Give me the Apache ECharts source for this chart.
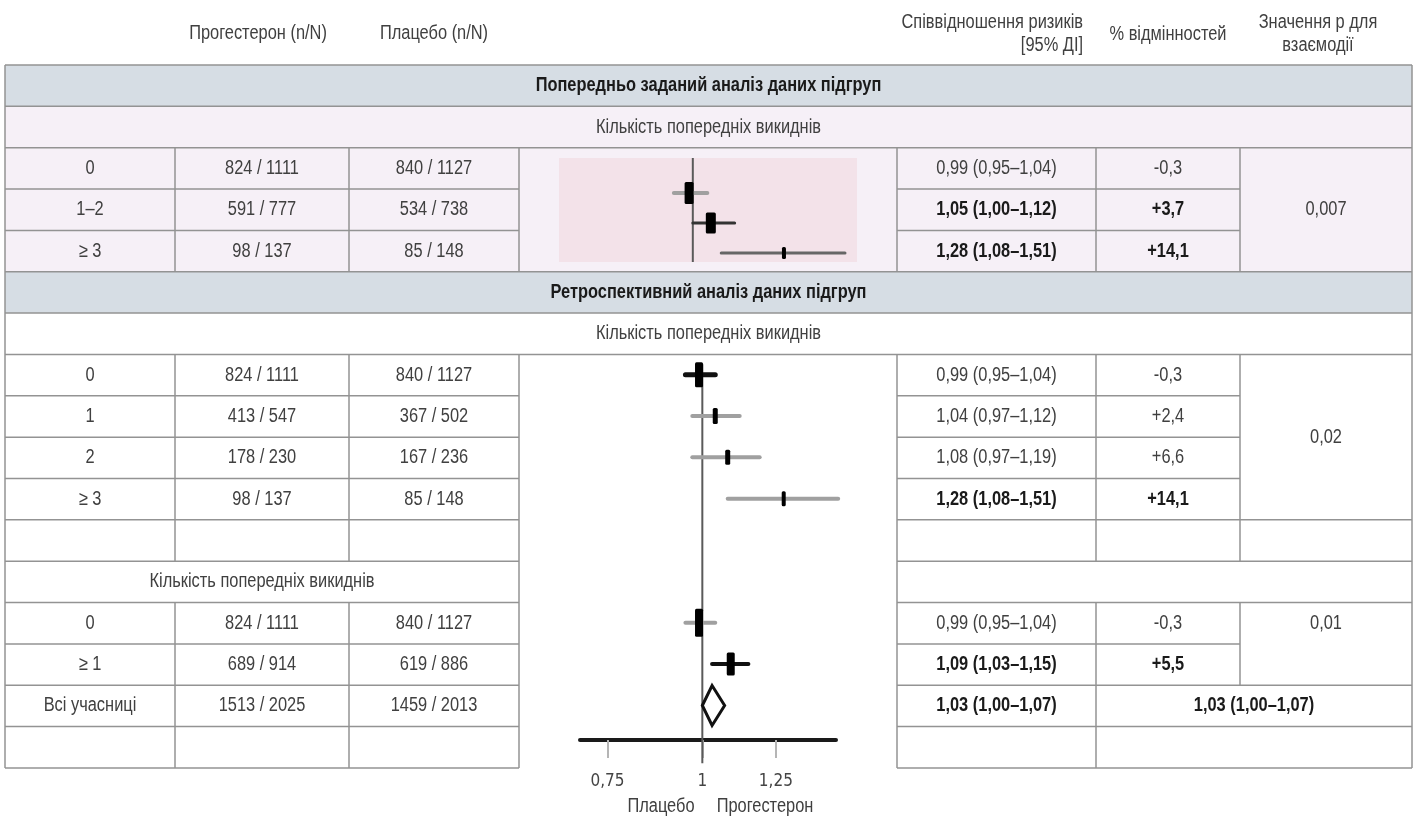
<!DOCTYPE html>
<html>
<head>
<meta charset="utf-8">
<script src="https://cdn.jsdelivr.net/npm/echarts@6/dist/echarts.min.js"></script>
<style>
  html, body { margin: 0; padding: 0; background: #fff; }
  #main { width: 1415px; height: 818px; }
</style>
</head>
<body>
<div id="main"></div>
<script>
// Попередньо заданий аналіз даних підгруп
const preCats = ['0', '1–2', '≥ 3'];
const preProg = ['824 / 1111', '591 / 777', '98 / 137'];
const prePlac = ['840 / 1127', '534 / 738', '85 / 148'];
const preRR = [0.99, 1.05, 1.28];
const preLo = [0.95, 1.00, 1.08];
const preHi = [1.04, 1.12, 1.51];
const preDiff = ['-0,3', '+3,7', '+14,1'];
const preBold = [false, true, true];
const preP = '0,007';

// Ретроспективний аналіз: 0 / 1 / 2 / ≥3
const retroCats = ['0', '1', '2', '≥ 3'];
const retroProg = ['824 / 1111', '413 / 547', '178 / 230', '98 / 137'];
const retroPlac = ['840 / 1127', '367 / 502', '167 / 236', '85 / 148'];
const retroRR = [0.99, 1.04, 1.08, 1.28];
const retroLo = [0.95, 0.97, 0.97, 1.08];
const retroHi = [1.04, 1.12, 1.19, 1.51];
const retroDiff = ['-0,3', '+2,4', '+6,6', '+14,1'];
const retroBold = [false, false, false, true];
const retroP = '0,02';

// Ретроспективний аналіз: 0 / ≥1
const binCats = ['0', '≥ 1'];
const binProg = ['824 / 1111', '689 / 914'];
const binPlac = ['840 / 1127', '619 / 886'];
const binRR = [0.99, 1.09];
const binLo = [0.95, 1.03];
const binHi = [1.04, 1.15];
const binDiff = ['-0,3', '+5,5'];
const binBold = [false, true];
const binP = '0,01';

// Всі учасниці
const allLabel = 'Всі учасниці';
const allProg = '1513 / 2025';
const allPlac = '1459 / 2013';
const allRR = 1.03;
const allLo = 1.00;
const allHi = 1.07;

const axisTicks = [0.75, 1, 1.25];

// ---- вигляд ----
// вузький шрифт імітуємо стисканням по горизонталі
const FONT = '"Liberation Sans", Arial, sans-serif';
const FS = 20, SX = 0.82;
const AX_FONT = '"DejaVu Sans Condensed", "Liberation Sans", sans-serif';
const BORDER = '#939393';
const T0 = 65, RH = 41.35;
const colX = [5, 175, 349, 519, 897, 1096, 1240, 1412];
const rowY = i => T0 + i * RH;
const mid = c => (colX[c] + colX[c + 1]) / 2;
const L = colX[0], R = colX[7];

// розміри маркерів та стиль ДІ
const preBox = [[9, 22], [10, 21], [4, 12]];
const preCi = [['#a0a0a0', 4], ['#333', 3], ['#666', 3]];
const retroBox = [[8, 25], [5, 16], [5, 15], [4, 15]];
const retroCi = [['#111', 5], ['#a0a0a0', 4], ['#a0a0a0', 4], ['#a0a0a0', 4]];
const binBox = [[8, 28], [8, 23]];
const binCi = [['#a0a0a0', 4], ['#111', 4]];

const fmt = v => v.toFixed(2).replace('.', ',');
const rrText = (rr, lo, hi) => `${fmt(rr)} (${fmt(lo)}–${fmt(hi)})`;

// ---- таблиця ----
const g = [];
function bg(y1, y2, fill) {
  g.push({ type: 'rect', z: -5, silent: true, shape: { x: L, y: y1, width: R - L, height: y2 - y1 }, style: { fill } });
}
function hl(r, x1, x2) {
  g.push({ type: 'line', silent: true, shape: { x1, y1: rowY(r), x2, y2: rowY(r) }, style: { stroke: BORDER, lineWidth: 1.5 } });
}
function vl(x, r1, r2) {
  g.push({ type: 'line', silent: true, shape: { x1: x, y1: rowY(r1), x2: x, y2: rowY(r2) }, style: { stroke: BORDER, lineWidth: 1.5 } });
}
function txt(s, x, y, o = {}) {
  const align = o.align || 'center';
  g.push({
    type: 'text', x, y, scaleX: SX, silent: true,
    style: {
      text: s, fontFamily: FONT, fontSize: o.size || FS,
      fontWeight: o.bold ? 'bold' : 'normal',
      fill: o.color || (o.bold ? '#1a1a1a' : '#404040'),
      textAlign: align, align: align,
      textVerticalAlign: 'middle', verticalAlign: 'middle'
    }
  });
}
const rc = r => rowY(r) + RH / 2;

// фон
bg(rowY(0), rowY(1), '#d6dde4');
bg(rowY(1), rowY(5), '#f6f0f7');
bg(rowY(5), rowY(6), '#d6dde4');

// горизонтальні лінії
[0, 1, 2, 5, 6, 7].forEach(r => hl(r, L, R));
[3, 4, 8, 9, 10, 14].forEach(r => { hl(r, L, colX[3]); hl(r, colX[4], colX[6]); });
[11, 12, 13, 15, 16, 17].forEach(r => { hl(r, L, colX[3]); hl(r, colX[4], R); });

// вертикальні лінії
vl(L, 0, 17); vl(R, 0, 17);
[colX[1], colX[2]].forEach(x => { vl(x, 2, 5); vl(x, 7, 12); vl(x, 13, 17); });
[colX[3], colX[4]].forEach(x => { vl(x, 2, 5); vl(x, 7, 17); });
vl(colX[5], 2, 5); vl(colX[5], 7, 12); vl(colX[5], 13, 17);
vl(colX[6], 2, 5); vl(colX[6], 7, 12); vl(colX[6], 13, 15);

// заголовки стовпців
txt('Прогестерон (n/N)', mid(1) - 4, 33);
txt('Плацебо (n/N)', mid(2), 33);
txt('Співвідношення ризиків', 1083, 22, { align: 'right' });
txt('[95% ДІ]', 1083, 45, { align: 'right' });
txt('% відмінностей', mid(5), 34);
txt('Значення р для', 1318, 22);
txt('взаємодії', 1318, 45);

// розділи
const midT = (L + R) / 2;
txt('Попередньо заданий аналіз даних підгруп', midT, rc(0), { bold: true });
txt('Кількість попередніх викиднів', midT, rc(1));
txt('Ретроспективний аналіз даних підгруп', midT, rc(5), { bold: true });
txt('Кількість попередніх викиднів', midT, rc(6));
txt('Кількість попередніх викиднів', (L + colX[3]) / 2, rc(12));

function rows(r0, cats, prog, plac, rr, lo, hi, diff, bold) {
  cats.forEach((c, i) => {
    const y = rc(r0 + i);
    txt(c, mid(0), y);
    txt(prog[i], mid(1), y);
    txt(plac[i], mid(2), y);
    txt(rrText(rr[i], lo[i], hi[i]), mid(4), y, { bold: bold[i] });
    txt(diff[i], mid(5), y, { bold: bold[i] });
  });
}
rows(2, preCats, preProg, prePlac, preRR, preLo, preHi, preDiff, preBold);
txt(preP, mid(6), rowY(2) + 1.5 * RH);
rows(7, retroCats, retroProg, retroPlac, retroRR, retroLo, retroHi, retroDiff, retroBold);
txt(retroP, mid(6), rowY(9));
rows(13, binCats, binProg, binPlac, binRR, binLo, binHi, binDiff, binBold);
txt(binP, mid(6), rc(13));
txt(allLabel, mid(0), rc(15));
txt(allProg, mid(1), rc(15));
txt(allPlac, mid(2), rc(15));
txt(rrText(allRR, allLo, allHi), mid(4), rc(15), { bold: true });
txt(rrText(allRR, allLo, allHi), (colX[5] + R) / 2, rc(15), { bold: true });

// підписи під віссю
txt('Плацебо', 661, 806);
txt('Прогестерон', 765, 806);

// ---- лісовий графік ----
function forestItem(boxes, ci) {
  return function (params, api) {
    const i = params.dataIndex;
    const y = api.value(3);
    const a = api.coord([api.value(1), y]);
    const b = api.coord([api.value(2), y]);
    const c = api.coord([api.value(0), y]);
    const w = boxes[i][0], h = boxes[i][1];
    return {
      type: 'group',
      children: [
        { type: 'line', shape: { x1: a[0], y1: a[1], x2: b[0], y2: b[1] },
          style: { stroke: ci[i][0], lineWidth: ci[i][1], lineCap: 'round' } },
        { type: 'rect', shape: { x: c[0] - w / 2, y: c[1] - h / 2, width: w, height: h, r: 1.5 },
          style: { fill: '#000' } }
      ]
    };
  };
}
function refLine(params, api) {
  const a = api.coord([api.value(0), api.value(1)]);
  const b = api.coord([api.value(0), api.value(2)]);
  return { type: 'line', shape: { x1: a[0], y1: a[1], x2: b[0], y2: b[1] },
    style: { stroke: '#5a5a5a', lineWidth: 2 } };
}
function diamond(params, api) {
  const y = api.value(3);
  const l = api.coord([api.value(1), y]);
  const r = api.coord([api.value(2), y]);
  const c = api.coord([api.value(0), y]);
  return { type: 'polygon',
    shape: { points: [[l[0], c[1]], [c[0], c[1] - 20], [r[0], c[1]], [c[0], c[1] + 20]] },
    style: { fill: '#fff', stroke: '#111', lineWidth: 3 } };
}
const zip = (rr, lo, hi, ys) => rr.map((v, i) => [v, lo[i], hi[i], ys[i]]);

const chart = echarts.init(document.getElementById('main'), null, { renderer: 'canvas' });
chart.setOption({
  animation: false,
  backgroundColor: '#fff',
  graphic: { elements: g },
  grid: [
    { left: 559, top: 158, width: 298, height: 104, show: true, backgroundColor: '#f3e2e9', borderWidth: 0 },
    { left: 580, top: 354, width: 256, height: 386 }
  ],
  xAxis: [
    { gridIndex: 0, type: 'log', min: 0.696, max: 1.56, show: false },
    { gridIndex: 1, type: 'log', min: 0.69, max: 1.5,
      axisLine: { show: true, lineStyle: { color: '#1a1a1a', width: 4 } },
      axisTick: { show: true, customValues: axisTicks, length: 18, lineStyle: { color: '#b5b5b5', width: 2 } },
      axisLabel: { customValues: axisTicks, margin: 33, fontSize: 17, color: '#444', fontFamily: AX_FONT,
        formatter: v => String(Math.round(v * 100) / 100).replace('.', ',') },
      splitLine: { show: false }, minorTick: { show: false } }
  ],
  yAxis: [
    { gridIndex: 0, type: 'value', inverse: true, min: -1.167, max: 2.3, show: false },
    { gridIndex: 1, type: 'value', inverse: true, min: 6.5, max: 15.835, show: false }
  ],
  series: [
    { type: 'custom', xAxisIndex: 0, yAxisIndex: 0, renderItem: refLine, clip: false,
      data: [[1, -1.167, 2.3]] },
    { type: 'custom', xAxisIndex: 0, yAxisIndex: 0, renderItem: forestItem(preBox, preCi), clip: false,
      data: zip(preRR, preLo, preHi, [0, 1, 2]) },
    { type: 'custom', xAxisIndex: 1, yAxisIndex: 1, renderItem: refLine, clip: false,
      data: [[1, 6.75, 16.4]] },
    { type: 'custom', xAxisIndex: 1, yAxisIndex: 1, renderItem: forestItem(retroBox, retroCi), clip: false,
      data: zip(retroRR, retroLo, retroHi, [7, 8, 9, 10]) },
    { type: 'custom', xAxisIndex: 1, yAxisIndex: 1, renderItem: forestItem(binBox, binCi), clip: false,
      data: zip(binRR, binLo, binHi, [13, 14]) },
    { type: 'custom', xAxisIndex: 1, yAxisIndex: 1, renderItem: diamond, clip: false,
      data: [[allRR, allLo, allHi, 15]] }
  ]
});
</script>
</body>
</html>
